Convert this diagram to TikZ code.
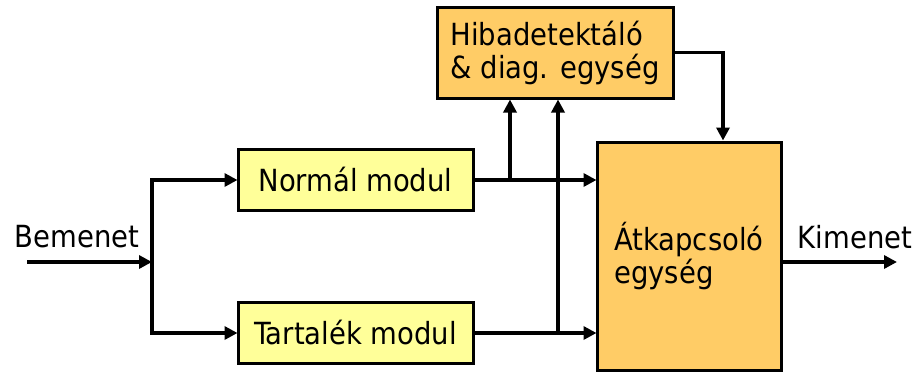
\documentclass[tikz,border=0pt]{standalone}
\usepackage{fontspec}
\setmainfont{DejaVu Sans Condensed}
\usetikzlibrary{arrows.meta}
\usetikzlibrary{calc}
\usetikzlibrary{positioning}

\definecolor{modyel}{HTML}{FFFF99}
\definecolor{unitorg}{HTML}{FFCC66}

\begin{document}
\begin{tikzpicture}[x=1pt, y=-1pt, line width=3.4pt,
    >={Triangle[length=13pt,width=13pt]}, arrows=->,
    mod/.style={rectangle, draw, line width=3pt, fill=modyel, minimum width=235pt, minimum height=61pt},
    unit/.style={rectangle, draw, line width=3pt, fill=unitorg, align=left},
    txt/.style={inner sep=0pt},
    font=\fontsize{30.5}{33}\selectfont,
  ]
\useasboundingbox (0,0) rectangle (916,372);
% boxes
\node(hiba)[unit, minimum width=236pt, minimum height=91pt] at (555,52.5) {Hibadetektáló\\\& diag. egység};
\node(norm)[mod] at (355.5,180) {Normál modul};
\node(tart)[mod] at (355.5,333) {Tartalék modul};
\node(atk) [unit, minimum width=184pt, minimum height=228pt] at (689,256) {Átkapcsoló\\egység};
% labels
\node(bem)[txt] at (77,237) {Bemenet};
\node(kim)[txt] at (855,237) {Kimenet};
\coordinate(in)   at (27,262);
\coordinate(j)    at (152,262);
\coordinate(kout) at (897,262);
\coordinate(b1)   at (510,180);
\coordinate(b2)   at (558,333);

\draw (in) -- (j);
\draw[shorten >=-1pt] (j) |- (norm.west);
\draw[shorten >=-1pt] (j) |- (tart.west);
\draw[shorten >=-1pt] (norm.east) -- (norm.east -| atk.west);
\draw[shorten >=-1pt] (tart.east) -- (tart.east -| atk.west);
\draw (b1) -- (b1 |- hiba.south);
\draw (b2) -- (b2 |- hiba.south);
\draw (hiba.east) -| ($(atk.north)+(34,0)$);
\draw (atk.east |- kout) -- (kout);
\end{tikzpicture}
\end{document}
